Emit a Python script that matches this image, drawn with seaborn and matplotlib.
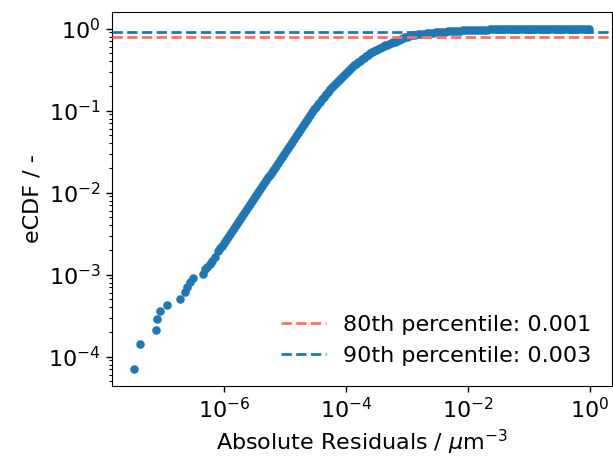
import numpy as np
import pandas as pd
import matplotlib
matplotlib.use("Agg")
import matplotlib.pyplot as plt
from matplotlib.ticker import NullLocator
import seaborn as sns

# ---- data (log10 of residual and of eCDF) ----
log_residual = [
    # sparse tail at small residuals
    -7.475, -7.376, -7.124, -7.108, -7.049, -6.939, -6.726,
    -6.644, -6.616, -6.563, -6.508, -6.345, -6.318, -6.285, -6.236,
    -6.203, -6.154,
    # steep part
    -6.1048, -6.0720, -6.0393, -6.0065, -5.9738, -5.9411, -5.9083, -5.8756,
    -5.8429, -5.8101, -5.7774, -5.7447, -5.7119, -5.6792, -5.6465, -5.6137,
    -5.5810, -5.5483, -5.5155, -5.4828, -5.4501, -5.4173, -5.3846, -5.3519,
    -5.3191, -5.2864, -5.2537, -5.2209, -5.1882, -5.1555, -5.1227, -5.0900,
    -5.0573, -5.0245, -4.9918, -4.9591, -4.9263, -4.8936, -4.8609, -4.8281,
    -4.7954, -4.7627, -4.7299, -4.6972, -4.6645, -4.6317, -4.5990, -4.5663,
    -4.5335,
    # bend
    -4.5008, -4.4681, -4.4354, -4.4026, -4.3699, -4.3372, -4.3044, -4.2717,
    -4.2389, -4.2062, -4.1735, -4.1408, -4.1080, -4.0753, -4.0426, -4.0098,
    -3.9771, -3.9444, -3.9116, -3.8789, -3.8462, -3.8134, -3.7807, -3.7480,
    -3.7152, -3.6825, -3.6498, -3.6170, -3.5843, -3.5516, -3.5188, -3.4861,
    -3.4534, -3.4206, -3.3879, -3.3552, -3.3224, -3.2897, -3.2570, -3.2242,
    -3.1915, -3.1588, -3.1260, -3.0933, -3.0606, -3.0278, -2.9951, -2.9624,
    # plateau
    -2.9133, -2.8642, -2.8151, -2.7660, -2.7169, -2.6678, -2.6187, -2.5696,
    -2.5205, -2.4714, -2.4223, -2.3732, -2.3241, -2.2750, -2.2259, -2.1768,
    -2.1277, -2.0786, -2.0295, -1.9804, -1.9313, -1.8822, -1.8331, -1.7840,
    -1.7349, -1.6858, -1.6367, -1.5876, -1.5385, -1.4894, -1.4403, -1.3912,
    -1.3421, -1.2930, -1.2439, -1.1948, -1.1457, -1.0966, -1.0475, -0.9984,
    -0.9493, -0.9002, -0.8511, -0.8020, -0.7529, -0.7038, -0.6547, -0.6056,
    -0.5565, -0.5074, -0.4583, -0.4092, -0.3601, -0.3110, -0.2619, -0.2128,
    -0.1637, -0.1146, -0.0655, -0.0164,
]
log_ecdf = [
    -4.146, -3.845, -3.669, -3.544, -3.447, -3.368, -3.301,
    -3.216, -3.151, -3.094, -3.037, -2.996, -2.935, -2.905, -2.874,
    -2.838, -2.789,
    -2.716, -2.680, -2.644, -2.608, -2.571, -2.535, -2.499, -2.463,
    -2.427, -2.391, -2.355, -2.319, -2.283, -2.247, -2.211, -2.175,
    -2.139, -2.103, -2.067, -2.031, -1.995, -1.959, -1.923, -1.887,
    -1.850, -1.814, -1.778, -1.742, -1.706, -1.670, -1.634, -1.598,
    -1.562, -1.526, -1.490, -1.454, -1.418, -1.382, -1.345, -1.309,
    -1.273, -1.237, -1.201, -1.165, -1.129, -1.093, -1.057, -1.021,
    -0.985,
    -0.954, -0.923, -0.893, -0.862, -0.832, -0.801, -0.771, -0.740,
    -0.716, -0.691, -0.667, -0.643, -0.618, -0.594, -0.570, -0.545,
    -0.521, -0.496, -0.472, -0.448, -0.429, -0.411, -0.393, -0.374,
    -0.356, -0.338, -0.320, -0.301, -0.289, -0.277, -0.265, -0.252,
    -0.240, -0.228, -0.216, -0.204, -0.194, -0.185, -0.176, -0.167,
    -0.157, -0.149, -0.137, -0.124, -0.113, -0.104, -0.096, -0.090,
    -0.0829, -0.0756, -0.0701, -0.0646, -0.0598, -0.0555, -0.0512, -0.0482,
    -0.0457, -0.0427, -0.0396, -0.0366, -0.0329, -0.0305, -0.0280, -0.0256,
    -0.0232, -0.0213, -0.0195, -0.0183, -0.0171, -0.0152, -0.0140, -0.0128,
    -0.0116, -0.0104, -0.0091, -0.0079, -0.0073, -0.0067, -0.0055, -0.0049,
    -0.0043, -0.0037, -0.0034, -0.0030, -0.0027, -0.0024, -0.0022, -0.0020,
    -0.0017, -0.0015, -0.0013, -0.0012, -0.0011, -0.0010, -0.0009, -0.0008,
    -0.0007, -0.0006, -0.0005, -0.0004, -0.0004, -0.0003, -0.0003, -0.0002,
    -0.0002, -0.0001, -0.0001, 0.0,
]

percentile_levels = [0.8, 0.9]
percentile_labels = ["80th percentile: 0.001", "90th percentile: 0.003"]
percentile_colors = ["#ff6f69", "#1f77b4"]
x_ticks = [1e-6, 1e-4, 1e-2, 1e0]

df = pd.DataFrame({
    "residual": 10.0 ** np.array(log_residual),
    "ecdf": 10.0 ** np.array(log_ecdf),
})

fig = plt.figure(figsize=(6.13, 4.57), dpi=100)
ax = fig.add_axes([111.7 / 613, (457 - 385.7) / 457, 500 / 613, 374 / 457])

sns.scatterplot(data=df, x="residual", y="ecdf", ax=ax, color="#1f77b4",
                s=38, linewidth=0, edgecolor=None, zorder=2)

for lvl, lab, col in zip(percentile_levels, percentile_labels, percentile_colors):
    ax.axhline(lvl, color=col, linestyle="--", linewidth=2, label=lab, zorder=3)

ax.set_xscale("log")
ax.set_yscale("log")
ax.set_xticks(x_ticks)
ax.xaxis.set_minor_locator(NullLocator())

fs = 16
ax.set_xlabel(r"Absolute Residuals / $\mu$m$^{-3}$", fontsize=fs)
ax.set_ylabel("eCDF / -", fontsize=fs)
ax.tick_params(axis="both", which="major", labelsize=fs, length=4.5, width=1)
ax.tick_params(axis="y", which="minor", length=2.5, width=0.8)

ax.legend(loc="lower right", frameon=False, fontsize=fs)

fig.savefig("out.png", dpi=100)
